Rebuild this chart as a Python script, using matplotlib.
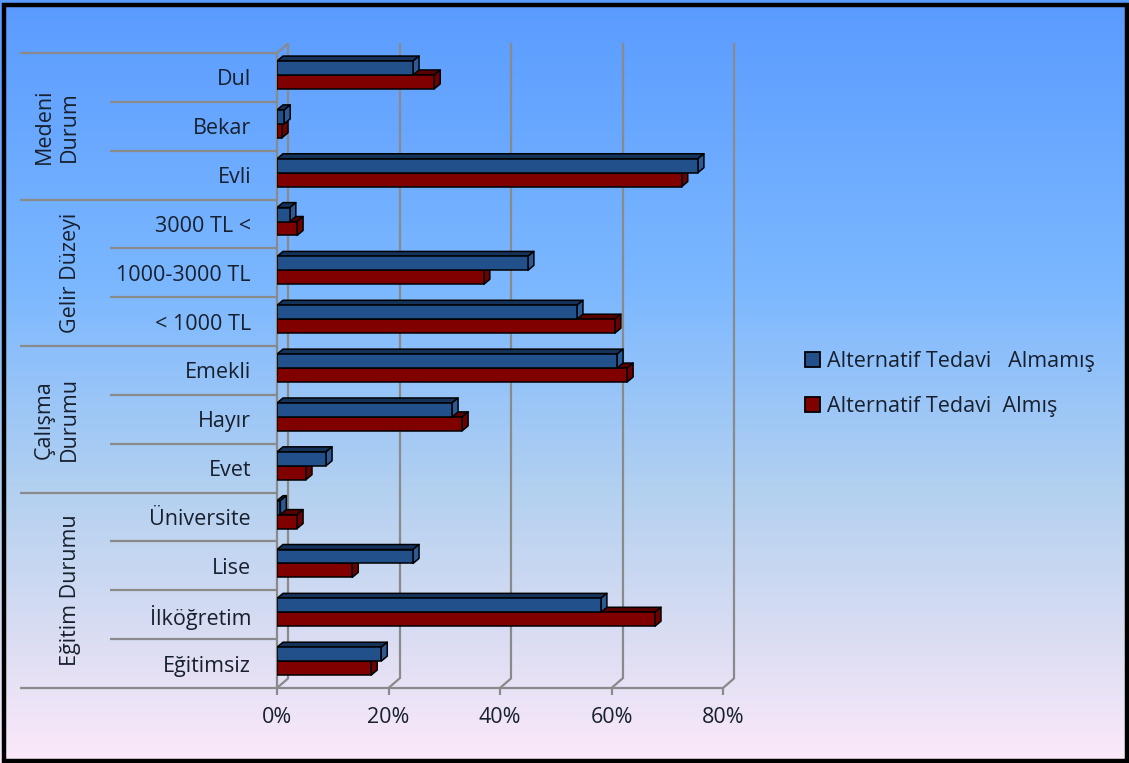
import numpy as np
import matplotlib
matplotlib.use("Agg")
import matplotlib.pyplot as plt
from matplotlib.patches import Polygon, Rectangle, Patch
from matplotlib.colors import LinearSegmentedColormap

# ---- data -------------------------------------------------------------
categories = ["Dul", "Bekar", "Evli",
              "3000 TL <", "1000-3000 TL", "< 1000 TL",
              "Emekli", "Hayır", "Evet",
              "Üniversite", "Lise", "İlköğretim", "Eğitimsiz"]
almamis = [24.4, 1.3, 75.5, 2.3, 45.0, 53.8, 61.0, 31.4, 8.8, 0.6, 24.4, 58.1, 18.7]
almis = [28.2, 0.9, 72.6, 3.6, 37.1, 60.6, 62.8, 33.2, 5.2, 3.6, 13.5, 67.8, 16.9]
series_names = ["Alternatif Tedavi   Almamış", "Alternatif Tedavi  Almış"]
groups = [("Medeni\nDurum", 0, 3), ("Gelir Düzeyi", 3, 6),
          ("Çalışma\nDurumu", 6, 9), ("Eğitim Durumu", 9, 13)]
xticks = [0, 20, 40, 60, 80]
xtick_labels = ["0%", "20%", "40%", "60%", "80%"]

# ---- style ------------------------------------------------------------
plt.rcParams["font.family"] = ["Open Sans", "DejaVu Sans"]
TXT = "#18202e"
GRID = "#8a8a8a"
BLUE = ("#21508a", "#15325a", "#2b5b96")   # front, top, side
RED = ("#800000", "#5a0000", "#6e0000")

W, H = 1129, 763
fig = plt.figure(figsize=(W / 100, H / 100), dpi=100)

# background gradient
bg = fig.add_axes([0, 0, 1, 1], zorder=-10)
cmap = LinearSegmentedColormap.from_list("bg", [
    (0.00, (90 / 255, 155 / 255, 255 / 255)),
    (0.38, (124 / 255, 184 / 255, 255 / 255)),
    (0.65, (180 / 255, 209 / 255, 240 / 255)),
    (0.85, (221 / 255, 222 / 255, 243 / 255)),
    (1.00, (252 / 255, 233 / 255, 250 / 255)),
])
grad = np.linspace(0, 1, 400).reshape(-1, 1)
bg.imshow(grad, aspect="auto", cmap=cmap, extent=[0, 1, 0, 1], origin="upper")
bg.set_xlim(0, 1)
bg.set_ylim(0, 1)
bg.axis("off")
bg.add_patch(Rectangle((4 / W, 2.5 / H), 1123 / W, 756 / H, fill=False,
                       edgecolor="black", linewidth=3.2, transform=bg.transAxes))

# main axes: front plane of the 3-D plot box
x0_px, x1_px, y_top_px, y_bot_px = 277, 723, 53, 688
ax = fig.add_axes([x0_px / W, 1 - y_bot_px / H,
                   (x1_px - x0_px) / W, (y_bot_px - y_top_px) / H])
ax.set_xlim(0, 80)
n = len(categories)
ax.set_ylim(n - 0.5, -0.5)
ax.patch.set_alpha(0)
for s in ax.spines.values():
    s.set_visible(False)

px_x = (x1_px - x0_px) / 80.0          # pixels per percent
px_y = (y_bot_px - y_top_px) / n       # pixels per category

# wall depth and bar depth (pixels -> data units)
wdx, wdy = 11 / px_x, -9.5 / px_y
bdx, bdy = 6 / px_x, -5 / px_y

# walls, floor and gridlines
kw = dict(color=GRID, lw=1.6, clip_on=False, zorder=1, solid_capstyle="butt")
tick = 7 / px_y
for xv in xticks:
    ax.plot([xv + wdx, xv + wdx], [-0.5 + wdy, n - 0.5 + wdy], **kw)
    ax.plot([xv + wdx, xv], [n - 0.5 + wdy, n - 0.5], **kw)
    ax.plot([xv, xv], [n - 0.5, n - 0.5 + tick], **kw)
ax.plot([0, 80], [n - 0.5, n - 0.5], **kw)
ax.plot([0, 0], [-0.5, n - 0.5], **kw)
ax.plot([0, wdx], [-0.5, -0.5 + wdy], **kw)

# category separators (multi-level axis)
xl_long = (20 - x0_px) / px_x
xl_short = (110 - x0_px) / px_x
group_edges = {g[1] for g in groups} | {groups[-1][2]}
for k in range(n + 1):
    xs = xl_long if k in group_edges else xl_short
    ax.plot([xs, 0], [k - 0.5, k - 0.5], **kw)

# 3-D bars
h = 0.285
split = -0.05


def bar3d(y_top, y_bot, val, cols):
    front, top, side = cols
    ec = dict(edgecolor="black", linewidth=1.1, joinstyle="round", zorder=3)
    ax.add_patch(Polygon([(0, y_top), (val, y_top), (val + bdx, y_top + bdy),
                          (bdx, y_top + bdy)], closed=True, facecolor=top, **ec))
    ax.add_patch(Polygon([(val, y_top), (val, y_bot), (val + bdx, y_bot + bdy),
                          (val + bdx, y_top + bdy)], closed=True, facecolor=side, **ec))
    ax.add_patch(Rectangle((0, y_top), val, y_bot - y_top, facecolor=front, **ec))


for i in range(n):
    bar3d(i + split, i + split + h, almis[i], RED)
    bar3d(i + split - h, i + split, almamis[i], BLUE)

# tick labels
ax.set_yticks(range(n))
ax.set_yticklabels(categories, fontsize=15.5, color=TXT)
ax.tick_params(axis="y", length=0, pad=(x0_px - 251) * 0.72)
ax.set_xticks(xticks)
ax.set_xticklabels(xtick_labels, fontsize=15.5, color=TXT)
ax.tick_params(axis="x", length=0, pad=14)

# group labels
for name, a, b in groups:
    xc = 57 if "\n" in name else 71
    yc = (a + b - 1) / 2
    ax.text((xc - x0_px) / px_x, yc, name, rotation=90, ha="center", va="center",
            fontsize=15.5, color=TXT, linespacing=1.25, clip_on=False)

# legend
handles = [Patch(facecolor=BLUE[0], edgecolor="black", linewidth=1.3),
           Patch(facecolor=RED[0], edgecolor="black", linewidth=1.3)]
fig.legend(handles, series_names, loc="center left",
           bbox_to_anchor=(786 / W, 1 - 384 / H), frameon=False,
           fontsize=15.5, labelcolor=TXT, handlelength=0.7, handleheight=0.7,
           handletextpad=0.3, labelspacing=1.1)

fig.savefig("out.png", dpi=100)
